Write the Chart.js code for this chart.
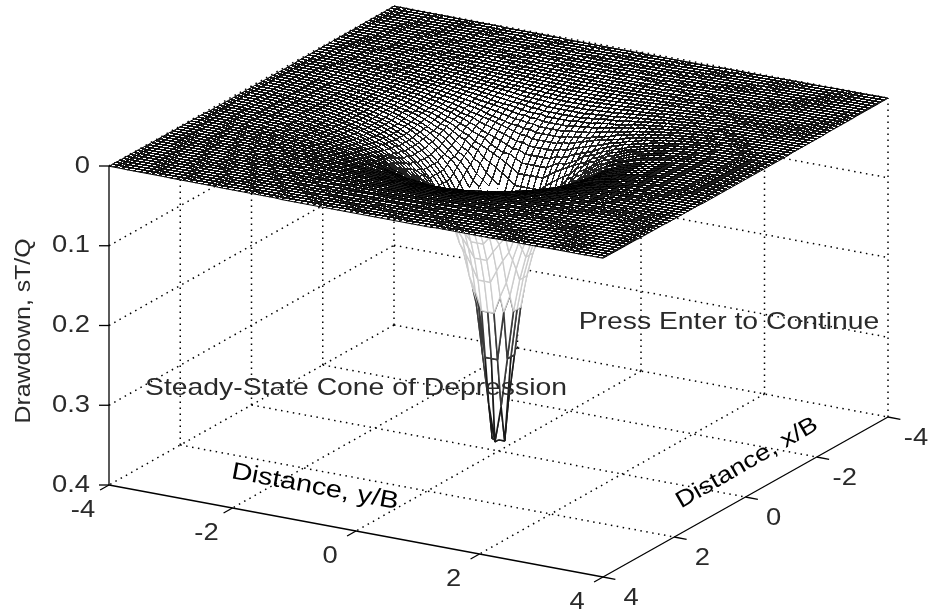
<!DOCTYPE html>
<html lang="en">
<head>
<meta charset="UTF-8">
<title>Steady-State Cone of Depression</title>
<script src="https://cdn.jsdelivr.net/npm/chart.js"></script>
<style>
  html, body { margin: 0; padding: 0; background: #fff; }
  canvas { display: block; }
</style>
</head>
<body>
<canvas id="myChart" width="932" height="613"></canvas>
<script>
// axis ticks
const xTicks = [-4, -2, 0, 2, 4];
const yTicks = [-4, -2, 0, 2, 4];
const zTicks = [0, 0.1, 0.2, 0.3, 0.4];
const xTickLabels = ['-4', '-2', '0', '2', '4'];
const yTickLabels = ['-4', '-2', '0', '2', '4'];
const zTickLabels = ['0', '0.1', '0.2', '0.3', '0.4'];

// drawdown, by distance from the well
const profileRadius = [
  0.05, 0.10, 0.15, 0.20, 0.25, 0.30, 0.35, 0.40, 0.45, 0.50,
  0.55, 0.60, 0.65, 0.70, 0.75, 0.80, 0.85, 0.90, 0.95, 1.00,
  1.05, 1.10, 1.15, 1.20, 1.25, 1.30, 1.35, 1.40, 1.45, 1.50,
  1.55, 1.60, 1.65, 1.70, 1.75, 1.80, 1.85, 1.90, 1.95, 2.00,
  2.05, 2.10, 2.15, 2.20, 2.25, 2.30, 2.35, 2.40, 2.45, 2.50,
  2.55, 2.60, 2.65, 2.70, 2.75, 2.80, 2.85, 2.90, 2.95, 3.00,
  3.2, 3.4, 3.6, 3.8, 4.0, 4.4, 4.8, 5.2, 5.7
];
const profileDrawdown = [
  0.386, 0.386, 0.340, 0.279, 0.245, 0.218, 0.196, 0.177, 0.161, 0.147,
  0.135, 0.124, 0.114, 0.105, 0.097, 0.090, 0.0835, 0.0775, 0.072, 0.067,
  0.0624, 0.0583, 0.0543, 0.0506, 0.0473, 0.0442, 0.0414, 0.0388, 0.0363, 0.034,
  0.0319, 0.0299, 0.028, 0.0263, 0.0247, 0.0232, 0.0218, 0.0204, 0.0192, 0.0181,
  0.017, 0.016, 0.0151, 0.0142, 0.0134, 0.0126, 0.0119, 0.0112, 0.0105, 0.0099,
  0.0093, 0.0088, 0.0083, 0.0078, 0.0074, 0.007, 0.0066, 0.0062, 0.0058, 0.0055,
  0.0044, 0.0035, 0.0028, 0.0022, 0.0018, 0.0012, 0.0008, 0.0005, 0.0003
];

// mesh colour bands (upper drawdown limit, colour, line width)
const bandLimits = [0.03, 0.06, 0.1, 0.2, 0.3, 1];
const bandColors = ['#000000', '#222222', '#444444', '#cccccc', '#3a3a3a', '#1a1a1a'];
const bandWidths = [1, 1, 1, 1.3, 1.6, 1.6];

const meshStep = 0.1;
const meshCount = 80;
const nearRadius = 2.1; // inside this every cell is its own dataset, so it hides what is behind it

// view: screen position of (x=4, y=-4, drawdown 0.4) and how the axes run on screen
const origin = { px: 109, py: 485 };
const perY = { px: 494 / 8, py: 92 / 8 };
const perX = { px: -285 / 8, py: 160 / 8 };
const perZ = 319 / 0.4;

function project(x, y, z) {
  return {
    x: origin.px + (y + 4) * perY.px + (x - 4) * perX.px,
    y: origin.py + (y + 4) * perY.py + (x - 4) * perX.py - (0.4 - z) * perZ
  };
}

function drawdownAt(x, y) {
  const r = Math.hypot(x, y);
  let best = 0;
  for (let k = 1; k < profileRadius.length; k++) {
    if (Math.abs(profileRadius[k] - r) < Math.abs(profileRadius[best] - r)) best = k;
  }
  return profileDrawdown[best];
}

function bandIndex(s) {
  let k = 0;
  while (s > bandLimits[k]) k++;
  return k;
}

// mesh nodes
const nodes = [];
for (let i = 0; i <= meshCount; i++) {
  nodes.push([]);
  for (let j = 0; j <= meshCount; j++) {
    const x = -4 + i * meshStep, y = -4 + j * meshStep;
    const s = drawdownAt(x, y);
    nodes[i].push({ s: s, p: project(x, y, s) });
  }
}

// six points per cell: round the cell, then step along to the next one
function cellPath(i, j0, j1) {
  const pts = [];
  for (let j = j0; j < j1; j++) {
    pts.push(nodes[i][j].p, nodes[i + 1][j].p, nodes[i + 1][j + 1].p, nodes[i][j + 1].p, nodes[i][j].p, nodes[i][j + 1].p);
  }
  return pts;
}

function meshDataset(pts, band) {
  return { surface: true, data: pts, showLine: true, borderColor: bandColors[band], borderWidth: bandWidths[band], pointRadius: 0, borderJoinStyle: 'bevel' };
}

// back to front: x and y both grow towards the viewer
const meshDatasets = [];
for (let i = 0; i < meshCount; i++) {
  let j = 0;
  while (j < meshCount) {
    const xm = -4 + (i + 0.5) * meshStep;
    const isNear = jj => Math.hypot(xm, -4 + (jj + 0.5) * meshStep) < nearRadius;
    if (isNear(j)) {
      const s = (nodes[i][j].s + nodes[i + 1][j].s + nodes[i][j + 1].s + nodes[i + 1][j + 1].s) / 4;
      meshDatasets.push(meshDataset(cellPath(i, j, j + 1), bandIndex(s)));
      j++;
    } else {
      let end = j + 1;
      while (end < meshCount && !isNear(end)) end++;
      meshDatasets.push(meshDataset(cellPath(i, j, end), 0));
      j = end;
    }
  }
}

function frameLine(a, b, dotted) {
  return {
    data: [a, b], showLine: true, borderColor: '#000000', pointRadius: 0,
    borderWidth: dotted ? 1.5 : 1.3, borderDash: dotted ? [1.5, 4.5] : []
  };
}

// dotted grid on the floor and on the two back walls, solid axes in front
const frameDatasets = [];
xTicks.forEach(x => {
  frameDatasets.push(frameLine(project(x, -4, 0.4), project(x, 4, 0.4), x !== 4));
  frameDatasets.push(frameLine(project(x, -4, 0.4), project(x, -4, 0), x !== 4));
});
yTicks.forEach(y => {
  frameDatasets.push(frameLine(project(-4, y, 0.4), project(4, y, 0.4), y !== 4));
  if (y !== -4) frameDatasets.push(frameLine(project(-4, y, 0.4), project(-4, y, 0), true));
});
zTicks.forEach(z => {
  if (z !== 0.4) {
    frameDatasets.push(frameLine(project(4, -4, z), project(-4, -4, z), true));
    frameDatasets.push(frameLine(project(-4, -4, z), project(-4, 4, z), true));
  }
  // tick marks on the vertical axis
  const p = project(4, -4, z);
  frameDatasets.push(frameLine(p, { x: p.x - 10, y: p.y }, false));
});
yTicks.forEach(y => frameDatasets.push(frameLine(project(4, y, 0.4), project(4.25, y, 0.4), false)));
xTicks.forEach(x => frameDatasets.push(frameLine(project(x, 4, 0.4), project(x, 4.2, 0.4), false)));

// white cell fill under each mesh dataset, this is the hidden line removal
const surfaceFill = {
  id: 'surfaceFill',
  beforeDatasetDraw(chart, args) {
    if (!chart.data.datasets[args.index].surface) return;
    const ctx = chart.ctx, pts = args.meta.data;
    ctx.save();
    ctx.beginPath();
    for (let n = 0; n + 3 < pts.length; n += 6) {
      ctx.moveTo(pts[n].x, pts[n].y);
      ctx.lineTo(pts[n + 1].x, pts[n + 1].y);
      ctx.lineTo(pts[n + 2].x, pts[n + 2].y);
      ctx.lineTo(pts[n + 3].x, pts[n + 3].y);
      ctx.closePath();
    }
    ctx.fillStyle = '#ffffff';
    ctx.fill();
    ctx.restore();
  }
};

// the reference is a non antialiased screen grab: harden the plate so its moire shows up
const hardenPlate = {
  id: 'hardenPlate',
  afterDatasetsDraw(chart) {
    const ctx = chart.ctx, w = chart.width, h = chart.height;
    const left = project(4, -4, 0), front = project(4, 4, 0), right = project(-4, 4, 0);
    const img = ctx.getImageData(0, 0, w, h), d = img.data;
    for (let py = 0; py < Math.ceil(front.y) + 1; py++) {
      for (let px = Math.floor(left.x); px <= Math.ceil(right.x); px++) {
        const edge = px < front.x
          ? left.y + (px - left.x) * (front.y - left.y) / (front.x - left.x)
          : front.y + (px - front.x) * (right.y - front.y) / (right.x - front.x);
        if (py > edge) continue;
        const k = (py * w + px) * 4;
        if (d[k + 3] === 0) continue;
        const v = d[k] < 195 ? Math.min(d[k], 30) : 255;
        d[k] = d[k + 1] = d[k + 2] = v;
      }
    }
    ctx.putImageData(img, 0, 0);
  }
};

function putText(ctx, text, x, y, opts) {
  opts = opts || {};
  ctx.save();
  ctx.translate(x, y);
  ctx.rotate((opts.angle || 0) * Math.PI / 180);
  ctx.scale(opts.stretch || 1.14, 1);
  ctx.font = (opts.size || 24) + 'px "Liberation Sans", Arial, sans-serif';
  ctx.fillStyle = opts.color || '#2a2a2a';
  ctx.textAlign = opts.align || 'center';
  ctx.textBaseline = 'middle';
  ctx.fillText(text, 0, 0);
  ctx.restore();
}

const axisText = {
  id: 'axisText',
  afterDraw(chart) {
    const ctx = chart.ctx;
    zTicks.forEach((z, k) => {
      const p = project(4, -4, z);
      putText(ctx, zTickLabels[k], p.x - 19, p.y, { align: 'right' });
    });
    yTicks.forEach((y, k) => {
      const p = project(4, y, 0.4);
      putText(ctx, yTickLabels[k], p.x - 26, p.y + 25);
    });
    xTicks.forEach((x, k) => {
      const p = project(x, 4, 0.4);
      putText(ctx, xTickLabels[k], p.x + 28, p.y + 21);
    });
    putText(ctx, 'Drawdown, sT/Q', 24, 331, { angle: -90, size: 22, stretch: 1.13 });
    putText(ctx, 'Distance, y/B', 315, 487, { angle: 10.5, size: 24, stretch: 1.2, color: '#000000' });
    putText(ctx, 'Distance, x/B', 747, 463, { angle: -30, size: 23, stretch: 1.18, color: '#000000' });
    putText(ctx, 'Steady-State Cone of Depression', 356, 388, { stretch: 1.18 });
    putText(ctx, 'Press Enter to Continue', 729, 322, { stretch: 1.18 });
  }
};

// Chart.js paints the first dataset last, so the front of the mesh goes first
const datasets = meshDatasets.slice().reverse().concat(frameDatasets);

new Chart(document.getElementById('myChart').getContext('2d'), {
  type: 'scatter',
  data: { datasets: datasets },
  plugins: [surfaceFill, hardenPlate, axisText],
  options: {
    responsive: false,
    animation: false,
    parsing: false,
    normalized: true,
    events: [],
    layout: { padding: 0 },
    plugins: { legend: { display: false }, tooltip: { enabled: false }, title: { display: false } },
    scales: {
      x: { type: 'linear', display: false, min: 0, max: 932 },
      y: { type: 'linear', display: false, min: 0, max: 613, reverse: true }
    }
  }
});
</script>
</body>
</html>
